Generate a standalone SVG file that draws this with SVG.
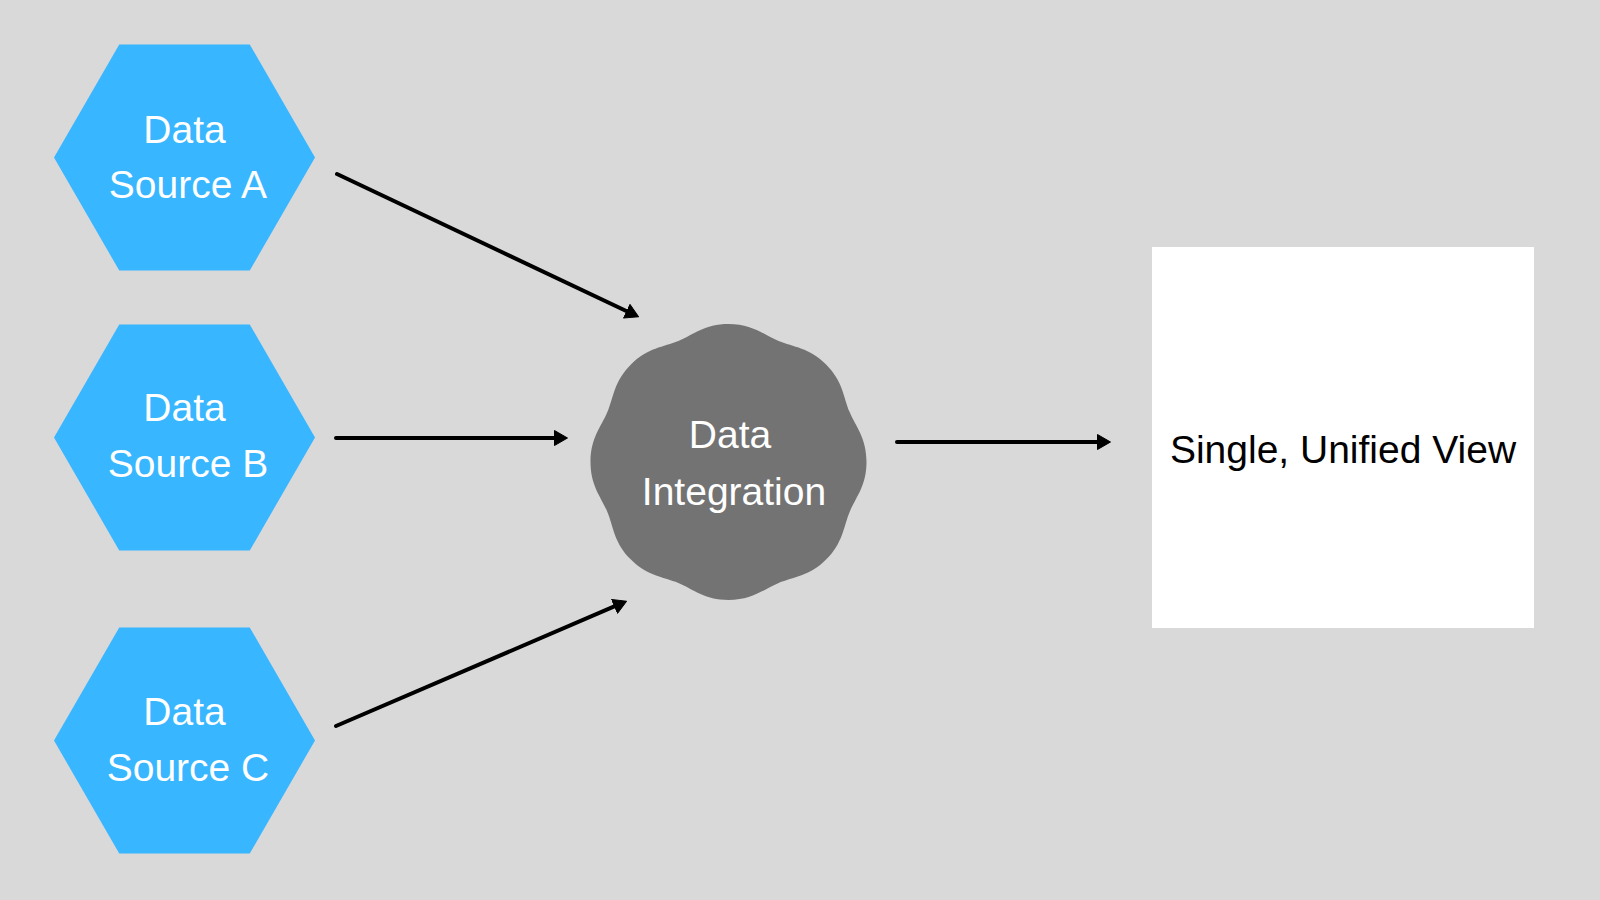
<svg xmlns="http://www.w3.org/2000/svg" width="1600" height="900" viewBox="0 0 1600 900">
  <style>
    .hex { fill: #38b6ff; }
    .lbl { font-family: "Liberation Sans", Arial, sans-serif; font-size: 39px; text-anchor: middle; }
    .w { fill: #ffffff; }
    .k { fill: #000000; }
    .conn { stroke: #000000; stroke-width: 4; stroke-linecap: round; fill: none; marker-end: url(#arrow); }
  </style>
  <defs>
    <marker id="arrow" viewBox="0 0 14 16" refX="4" refY="8" markerWidth="14" markerHeight="16" markerUnits="userSpaceOnUse" orient="auto">
      <path d="M0.5,0.5 L13.5,8 L0.5,15.5 Z" fill="#000000" stroke="#000000" stroke-width="1" stroke-linejoin="round"/>
    </marker>
  </defs>
  <rect x="0" y="0" width="1600" height="900" fill="#d9d9d9"/>

  <g id="source-a">
    <polygon class="hex" points="54,157.5 119.25,44.5 249.75,44.5 315,157.5 249.75,270.5 119.25,270.5"/>
    <text class="lbl w" x="184.5" y="142.5">Data</text>
    <text class="lbl w" x="188" y="198">Source A</text>
  </g>
  <g id="source-b">
    <polygon class="hex" points="54,437.5 119.25,324.5 249.75,324.5 315,437.5 249.75,550.5 119.25,550.5"/>
    <text class="lbl w" x="184.5" y="421">Data</text>
    <text class="lbl w" x="188" y="476.5">Source B</text>
  </g>
  <g id="source-c">
    <polygon class="hex" points="54,740.5 119.25,627.5 249.75,627.5 315,740.5 249.75,853.5 119.25,853.5"/>
    <text class="lbl w" x="184.5" y="725">Data</text>
    <text class="lbl w" x="188" y="780.5">Source C</text>
  </g>

  <g id="data-integration">
    <path transform="translate(728.5,462)" fill="#737373" d="M0,-138 C24,-138 35.35,-127.15 50.13,-121.03 C64.91,-114.91 80.61,-114.55 97.58,-97.58 C114.55,-80.61 114.91,-64.91 121.03,-50.13 C127.15,-35.35 138,-24 138,0 C138,24 127.15,35.35 121.03,50.13 C114.91,64.91 114.55,80.61 97.58,97.58 C80.61,114.55 64.91,114.91 50.13,121.03 C35.35,127.15 24,138 0,138 C-24,138 -35.35,127.15 -50.13,121.03 C-64.91,114.91 -80.61,114.55 -97.58,97.58 C-114.55,80.61 -114.91,64.91 -121.03,50.13 C-127.15,35.35 -138,24 -138,0 C-138,-24 -127.15,-35.35 -121.03,-50.13 C-114.91,-64.91 -114.55,-80.61 -97.58,-97.58 C-80.61,-114.55 -64.91,-114.91 -50.13,-121.03 C-35.35,-127.15 -24,-138 0,-138 Z"/>
    <text class="lbl w" x="730" y="447.5">Data</text>
    <text class="lbl w" x="734" y="504.5">Integration</text>
  </g>

  <g id="unified-view">
    <rect x="1152" y="247" width="382" height="381" fill="#ffffff"/>
    <text class="lbl k" x="1343" y="462.5">Single, Unified View</text>
  </g>

  <g id="connectors">
    <line class="conn" x1="337" y1="174" x2="629.96" y2="312.72"/>
    <line class="conn" x1="336" y1="438" x2="558" y2="438"/>
    <line class="conn" x1="336" y1="726" x2="617.8" y2="604.95"/>
    <line class="conn" x1="897" y1="442" x2="1101" y2="442"/>
  </g>
</svg>
